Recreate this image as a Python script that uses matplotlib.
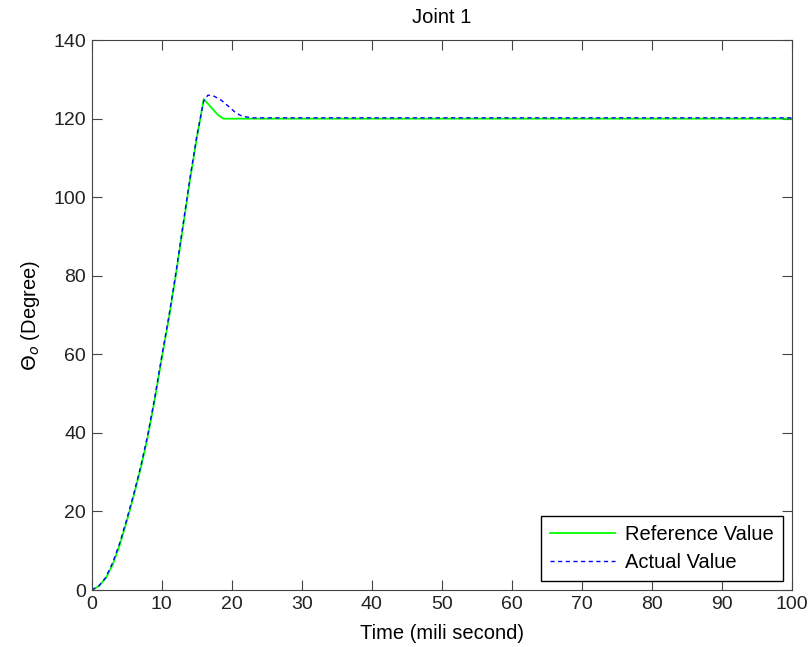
import matplotlib
matplotlib.use('Agg')
import matplotlib.pyplot as plt

plt.rcParams['font.family'] = ['Liberation Sans', 'DejaVu Sans']

# reference trajectory of joint 1
t_ref = [0, 1, 2, 3, 4, 5, 6, 7, 8, 9, 10, 11, 12, 13, 14, 15, 16, 17, 18, 18.8, 20, 100]
ref_value = [0, 1, 3, 6.5, 11.5, 17.5, 24, 31, 39, 48.5, 59, 69, 80, 92, 104, 115, 125, 123, 121, 120, 120, 120]

# measured response
t_act = [0, 1, 2, 3, 4, 5, 6, 7, 8, 9, 10, 11, 12, 13, 14, 15, 16, 16.6, 17.5, 18.5, 19.5, 20.5, 21.5, 23, 100]
act_value = [0, 1, 3.2, 7, 12, 18, 24.5, 31.5, 39.5, 49, 59.5, 69.5, 80.5, 92.5, 104.5, 115.5, 124.5, 126, 125.7, 124.7, 123.2, 121.6, 120.6, 120.2, 120.2]

fig, ax = plt.subplots(figsize=(8.12, 6.47), dpi=100)
fig.subplots_adjust(left=0.113, right=0.975, top=0.938, bottom=0.088)

ax.plot(t_ref, ref_value, color='#00ff00', lw=1.3, label='Reference Value')
ax.plot(t_act, act_value, color='#0000ff', lw=1.0, ls=(0, (3, 2.5)), label='Actual Value')

ax.set_xlim(0, 100)
ax.set_ylim(0, 140)
ax.set_xticks(range(0, 101, 10))
ax.set_yticks(range(0, 141, 20))
ax.tick_params(direction='in', top=True, right=True, labelsize=14, length=7, colors='#444444')
ax.tick_params(labelcolor='#222222', pad=4)
for s in ax.spines.values():
    s.set_color('#444444')

ax.set_title('Joint 1', fontsize=14.5, pad=12)
ax.set_xlabel('Time (mili second)', fontsize=14.5, labelpad=8)
ax.set_ylabel(r'$\Theta_{o}$ (Degree)', fontsize=14.5, labelpad=8)

leg = ax.legend(loc='lower right', fontsize=14.5, fancybox=False, framealpha=1,
                edgecolor='black', borderaxespad=0.45, handlelength=3.2,
                handletextpad=0.5, labelspacing=0.45, borderpad=0.45)
leg.get_frame().set_linewidth(1.0)

fig.savefig('out.png', dpi=100)
